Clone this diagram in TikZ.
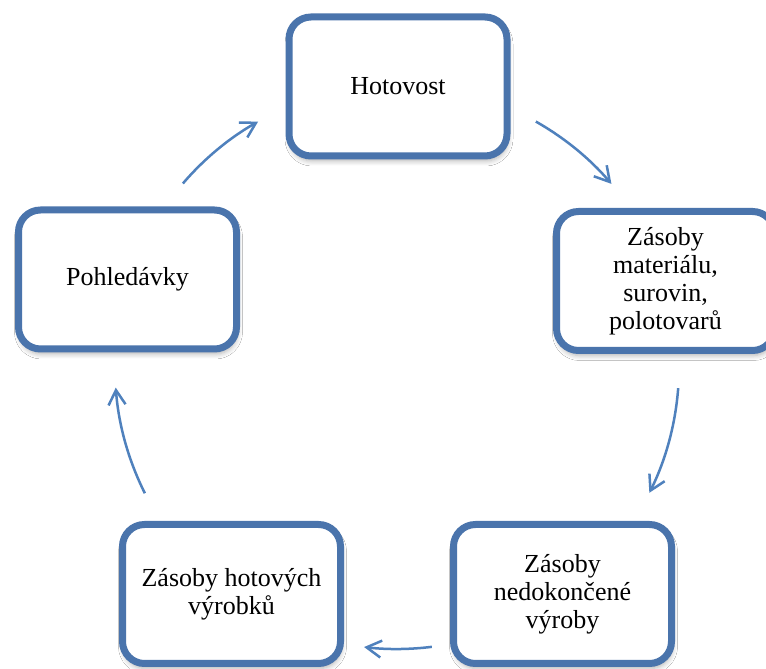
\documentclass[tikz,border=0pt]{standalone}
\usepackage{fontspec}
\setmainfont{Liberation Serif}
\usetikzlibrary{arrows.meta,shadows.blur}
\definecolor{boxblue}{HTML}{4A74AC}
\definecolor{arrowblue}{HTML}{4F81BD}
\tikzset{
  stage/.style={draw=boxblue, line width=7pt, fill=white, rounded corners=22pt,
    minimum width=218pt, minimum height=139pt, align=center,
    font=\fontsize{26}{28}\selectfont,
    blur shadow={shadow xshift=1pt, shadow yshift=-5pt, shadow blur steps=6,
      shadow opacity=30, shadow blur radius=5pt}},
  flow/.style={draw=arrowblue, line width=2.5pt,
    -{Straight Barb[angle=60:17pt, line width=2.5pt]}}
}
\begin{document}
\begin{tikzpicture}[x=1pt,y=1pt]
  \clip (0,0) rectangle (766,669);
  \fill[white] (0,0) rectangle (766,669);

  % the five stages of the cycle
  \node[stage] (cash)   at (398,582.5) {Hotovost};
  \node[stage] (mat)    at (665.5,388) {Zásoby\\materiálu,\\surovin,\\polotovarů};
  \node[stage] (wip)    at (562.5,75)  {Zásoby\\nedokončené\\výroby};
  \node[stage] (goods)  at (231.5,75)  {Zásoby hotových\\výrobků};
  \node[stage] (recv)   at (127.5,389.5) {Pohledávky};

  % arrows run clockwise along one circle
  \coordinate (c) at (397,302);
  \path (c) ++(139.4:282pt) coordinate (a1);
  \path (c) ++(60.5:282pt)  coordinate (a2);
  \path (c) ++(-4.3:282pt)  coordinate (a3);
  \path (c) ++(-82.9:282pt) coordinate (a4);
  \path (c) ++(206.6:282pt) coordinate (a5);

  \draw[flow] (a1) arc[start angle=139.4, end angle=119.5, radius=282pt];
  \draw[flow] (a2) arc[start angle=60.5,  end angle=40.5,  radius=282pt];
  \draw[flow] (a3) arc[start angle=-4.3,  end angle=-26.5, radius=282pt];
  \draw[flow] (a4) arc[start angle=-82.9, end angle=-96.7, radius=282pt];
  \draw[flow] (a5) arc[start angle=206.6, end angle=184.2, radius=282pt];
\end{tikzpicture}
\end{document}
